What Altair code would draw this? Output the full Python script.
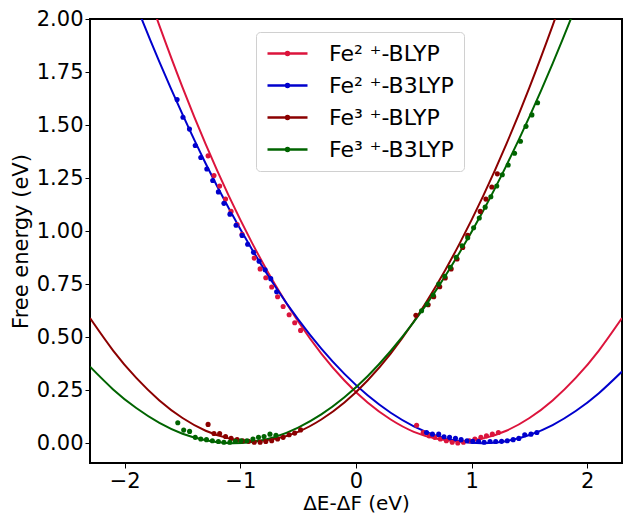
import altair as alt
import pandas as pd

# Series names and colours
series_names = ["Fe² ⁺-BLYP", "Fe² ⁺-B3LYP", "Fe³ ⁺-BLYP", "Fe³ ⁺-B3LYP"]
series_colors = ["#dc143c", "#0000cd", "#8b0000", "#006400"]

# Fitted curves
curve_x = [-2.3, -2.1, -1.9, -1.7, -1.5, -1.3, -1.1, -0.9, -0.7, -0.5, -0.3, -0.1,
           0.1, 0.3, 0.5, 0.7, 0.9, 1.1, 1.3, 1.5, 1.7, 1.9, 2.1, 2.3]
fe2_blyp_curve = [2.98, 2.62, 2.28, 1.969, 1.678, 1.410, 1.166, 0.946, 0.748, 0.574, 0.423, 0.296,
                  0.192, 0.112, 0.054, 0.021, 0.010, 0.023, 0.059, 0.119, 0.202, 0.308, 0.437, 0.590]
fe2_b3lyp_curve = [2.68, 2.36, 2.065, 1.798, 1.550, 1.319, 1.108, 0.915, 0.740, 0.584, 0.446, 0.327,
                   0.226, 0.144, 0.080, 0.035, 0.008, 0.000, 0.010, 0.039, 0.086, 0.152, 0.236, 0.338]
fe3_blyp_curve = [0.590, 0.437, 0.308, 0.202, 0.119, 0.059, 0.023, 0.010, 0.021, 0.054, 0.112, 0.192,
                  0.296, 0.423, 0.574, 0.748, 0.946, 1.166, 1.410, 1.678, 1.969, 2.28, 2.62, 2.98]
fe3_b3lyp_curve = [0.361, 0.254, 0.166, 0.096, 0.045, 0.014, 0.000, 0.006, 0.030, 0.074, 0.136, 0.217,
                   0.316, 0.435, 0.572, 0.728, 0.903, 1.096, 1.309, 1.540, 1.790, 2.059, 2.35, 2.66]

fe2_blyp_px = [-1.279, -1.228, -1.179, -1.128, -1.080, -1.028, -0.985, -0.880, -0.829, -0.780, -0.729,
               -0.678, -0.630, -0.578, -0.530, -0.479,
               0.524, 0.581, 0.632, 0.681, 0.729, 0.781, 0.832, 0.880, 0.929, 0.980, 1.028, 1.080,
               1.128, 1.179, 1.231]
fe2_blyp_py = [1.355, 1.262, 1.213, 1.151, 1.093, 1.031, 0.985, 0.873, 0.822, 0.780, 0.737,
               0.691, 0.645, 0.606, 0.568, 0.532,
               0.085, 0.051, 0.035, 0.028, 0.020, 0.012, 0.005, 0.001, 0.005, 0.012, 0.020, 0.028,
               0.035, 0.043, 0.051]
fe2_b3lyp_px = [-1.547, -1.496, -1.440, -1.390, -1.342, -1.290, -1.239, -1.190, -1.142, -1.090, -1.037,
                -0.985, -0.937, -0.886, -0.838, -0.786, -0.737, -0.686,
                0.610, 0.661, 0.715, 0.761, 0.809, 0.860, 0.909, 0.960, 1.009, 1.060, 1.108, 1.159,
                1.208, 1.259, 1.308, 1.359, 1.408, 1.459, 1.513, 1.564]
fe2_b3lyp_py = [1.620, 1.537, 1.481, 1.404, 1.347, 1.293, 1.239, 1.185, 1.131, 1.080, 1.028,
                0.980, 0.938, 0.900, 0.858, 0.818, 0.776, 0.714,
                0.051, 0.043, 0.043, 0.031, 0.028, 0.023, 0.017, 0.012, 0.009, 0.008, 0.005, 0.008,
                0.008, 0.009, 0.012, 0.017, 0.023, 0.040, 0.043, 0.051]
fe3_blyp_px = [-1.279, -1.228, -1.179, -1.128, -1.080, -1.028, -0.980, -0.929, -0.880, -0.829, -0.780,
               -0.729, -0.678, -0.630, -0.578, -0.530, -0.479,
               0.518, 0.624, 0.672, 0.724, 0.772, 0.823, 0.874, 0.923, 0.966, 1.074, 1.123, 1.174, 1.222]
fe3_blyp_py = [0.089, 0.046, 0.046, 0.032, 0.023, 0.017, 0.012, 0.009, 0.005, 0.005, 0.008,
               0.012, 0.020, 0.028, 0.040, 0.048, 0.063,
               0.603, 0.653, 0.691, 0.738, 0.779, 0.822, 0.869, 0.923, 0.980, 1.093, 1.151, 1.208, 1.270]
fe3_b3lyp_px = [-1.541, -1.490, -1.439, -1.390, -1.342, -1.293, -1.242, -1.190, -1.142, -1.091, -1.043,
                -0.994, -0.943, -0.891, -0.843, -0.795, -0.744, -0.692,
                0.567, 0.615, 0.667, 0.715, 0.767, 0.815, 0.866, 0.917, 0.966, 1.017, 1.066, 1.117,
                1.166, 1.217, 1.265, 1.316, 1.371, 1.422, 1.470, 1.521, 1.570]
fe3_b3lyp_py = [0.097, 0.062, 0.056, 0.028, 0.020, 0.017, 0.012, 0.008, 0.005, 0.005, 0.009,
                0.012, 0.012, 0.020, 0.028, 0.032, 0.043, 0.038,
                0.625, 0.656, 0.699, 0.750, 0.787, 0.830, 0.877, 0.931, 0.969, 1.016, 1.062, 1.113,
                1.162, 1.213, 1.266, 1.312, 1.367, 1.424, 1.494, 1.548, 1.605]

x_ticks = [-2, -1, 0, 1, 2]
y_ticks = [0.0, 0.25, 0.5, 0.75, 1.0, 1.25, 1.5, 1.75, 2.0]

curves = [fe2_blyp_curve, fe2_b3lyp_curve, fe3_blyp_curve, fe3_b3lyp_curve]
pts = [(fe2_blyp_px, fe2_blyp_py), (fe2_b3lyp_px, fe2_b3lyp_py),
       (fe3_blyp_px, fe3_blyp_py), (fe3_b3lyp_px, fe3_b3lyp_py)]

curve_rows = []
for name, ys in zip(series_names, curves):
    for xv, yv in zip(curve_x, ys):
        curve_rows.append({"x": xv, "y": yv, "series": name})
curve_df = pd.DataFrame(curve_rows)

pt_rows = []
for name, (xs, ys) in zip(series_names, pts):
    for xv, yv in zip(xs, ys):
        pt_rows.append({"x": xv, "y": yv, "series": name})
pt_df = pd.DataFrame(pt_rows)

FONT = "DejaVu Sans"

x_enc = alt.X("x:Q",
              scale=alt.Scale(domain=[-2.3, 2.3], nice=False, zero=False),
              axis=alt.Axis(title="ΔE-ΔF (eV)", values=x_ticks, format="d",
                            labelPadding=2, titlePadding=2, titleFontSize=20))
y_enc = alt.Y("y:Q",
              scale=alt.Scale(domain=[-0.093, 2.0], nice=False, zero=False),
              axis=alt.Axis(title="Free energy (eV)", values=y_ticks, format=".2f",
                            labelPadding=2, titlePadding=5))
color_scale = alt.Scale(domain=series_names, range=series_colors)

lines = alt.Chart(curve_df).mark_line(clip=True, strokeWidth=2, interpolate="natural").encode(
    x=x_enc, y=y_enc,
    color=alt.Color("series:N", scale=color_scale, sort=series_names,
                    legend=alt.Legend(
                        title=None, orient="none", legendX=166, legendY=13,
                        symbolType="M-2,0H2M-0.15,0a0.15,0.15 0 1,0 0.3,0a0.15,0.15 0 1,0 -0.3,0",
                        symbolSize=400, symbolStrokeWidth=2.5, symbolOffset=10,
                        labelOffset=30, labelFontSize=22, labelFont=FONT, labelColor="black",
                        rowPadding=9, padding=10,
                        strokeColor="#d0d0d0", fillColor="white", cornerRadius=4)),
)

points = alt.Chart(pt_df).mark_circle(size=26, opacity=1, clip=True).encode(
    x=x_enc, y=y_enc,
    color=alt.Color("series:N", scale=color_scale, legend=None),
)

chart = alt.layer(lines, points).properties(
    width=532, height=444,
    autosize=alt.AutoSizeParams(type="none"),
    padding={"left": 82, "top": 11, "right": 1, "bottom": 50},
).configure_view(
    stroke="black", strokeWidth=2
).configure_axis(
    grid=False, domain=False, tickColor="black", tickSize=5, tickWidth=1,
    labelFont=FONT, labelFontSize=21, labelColor="black",
    titleFont=FONT, titleFontSize=21, titleFontWeight="normal", titleColor="black",
)

chart.save("out.html", embed_options={"renderer": "svg", "actions": False})
